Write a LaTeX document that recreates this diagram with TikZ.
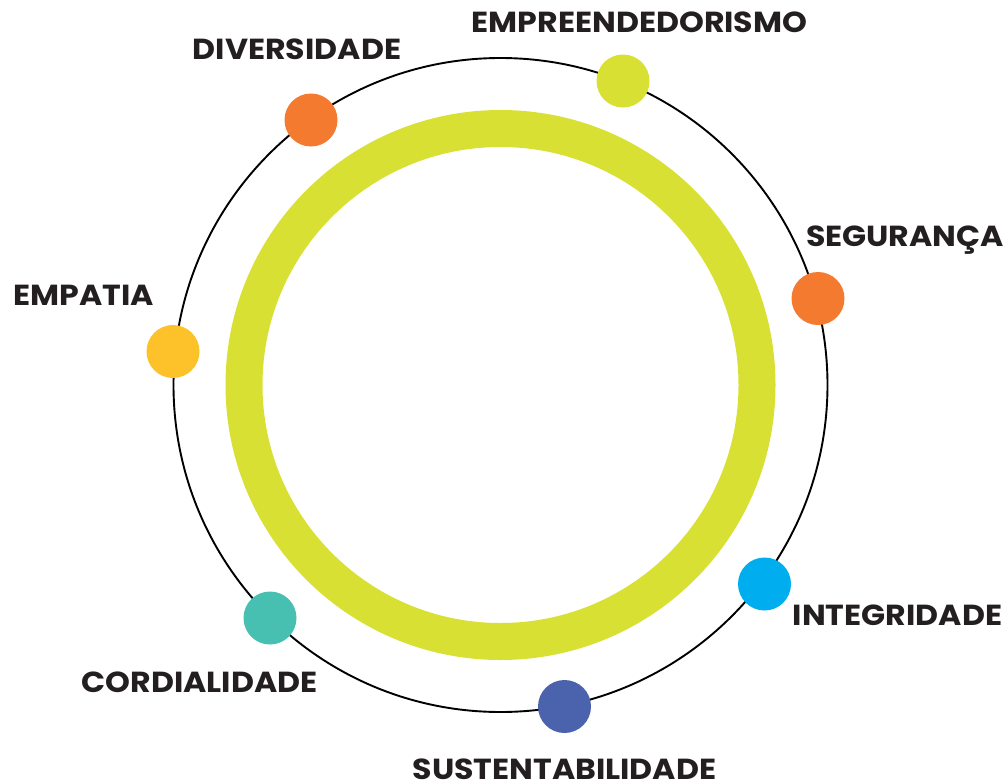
\documentclass[tikz,border=0pt]{standalone}
\usepackage{fontspec}
\newfontfamily\labfont{Poppins}[FakeStretch=1.09]
\definecolor{lime}{HTML}{D8E033}
\definecolor{orng}{HTML}{F37A2E}
\definecolor{yell}{HTML}{FDC12A}
\definecolor{teal}{HTML}{47BFB1}
\definecolor{cyan}{HTML}{00AEEF}
\definecolor{navy}{HTML}{4B62AD}
\definecolor{txt}{HTML}{231F20}
\tikzset{
  dot/.style={circle,fill=#1,minimum size=53pt,inner sep=0pt},
  lab/.style={anchor=base,text=txt,font=\labfont\bfseries\fontsize{29}{30}\selectfont,inner sep=0pt}
}
\begin{document}
\begin{tikzpicture}[x=1pt,y=-1pt]
\useasboundingbox (0,0) rectangle (1004,782);
\coordinate (c) at (500.5,385);
\draw[line width=1.9pt,black] (c) circle[radius=327];
\draw[line width=37pt,lime] (c) circle[radius=256.5];
\node[dot=lime] (d1) at (623,81) {};
\node[dot=orng] (d2) at (311,120) {};
\node[dot=orng] (d3) at (818,298.5) {};
\node[dot=yell] (d4) at (173,351.5) {};
\node[dot=cyan] (d5) at (764.5,584) {};
\node[dot=teal] (d6) at (270,618) {};
\node[dot=navy] (d7) at (564.5,706.5) {};
\node[lab] (l1) at (639.5,32) {EMPREENDEDORISMO};
\node[lab] (l2) at (297,59) {DIVERSIDADE};
\node[lab] (l3) at (905,246) {SEGURANÇA};
\node[lab] (l4) at (83.5,305) {EMPATIA};
\node[lab] (l5) at (897.5,625) {INTEGRIDADE};
\node[lab] (l6) at (199.5,692) {CORDIALIDADE};
\node[lab,text depth=0pt] (l7) at (564.5,779) {SUSTENTABILIDADE};
\end{tikzpicture}
\end{document}
